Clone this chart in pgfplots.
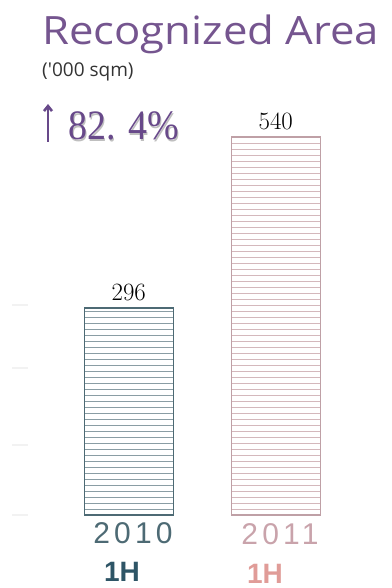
\documentclass[border=0pt]{standalone}
\usepackage{pgfplots}
\pgfplotsset{compat=1.18}
\usepackage{fontspec}
\usetikzlibrary{patterns.meta,arrows.meta}
\newfontfamily\titlefont{Open Sans}
\newfontfamily\serifnum{Liberation Serif}
\newfontfamily\yearfont[LetterSpace=14]{Liberation Sans}
\newfontfamily\boldsans{Liberation Sans}

\definecolor{titlepurple}{HTML}{75558F}
\definecolor{pctpurple}{HTML}{68498A}
\definecolor{tealdark}{HTML}{2E5566}
\definecolor{tealbar}{HTML}{4D6A74}
\definecolor{teallines}{HTML}{8A9DA4}
\definecolor{pinkbar}{HTML}{BFA0A6}
\definecolor{pinklines}{HTML}{D4B8BC}
\definecolor{pinkyear}{HTML}{C9A3AB}
\definecolor{pinkH}{HTML}{E09C98}

\begin{document}
\begin{tikzpicture}[x=1pt,y=1pt]
\useasboundingbox (0pt,0pt) rectangle (391pt,-588pt);

% headline block
\node[anchor=base west, inner sep=0, xscale=1.12, text=titlepurple, font=\titlefont\fontsize{39}{39}\selectfont] at (42pt,-45pt) {Recognized Area};
\node[anchor=base west, inner sep=0, text=black!80, font=\titlefont\fontsize{19}{19}\selectfont] at (42pt,-77pt) {('000 sqm)};
\draw[pctpurple, line width=2.6pt, -{Straight Barb[length=5pt,width=8pt]}] (48pt,-142pt) -- (48pt,-104pt);
\node[anchor=base west, inner sep=0, yscale=1.1, text=black!25, font=\serifnum\fontsize{38}{38}\selectfont] at (69.5pt,-141.5pt) {82. 4\%};
\node[anchor=base west, inner sep=0, yscale=1.1, text=pctpurple, font=\serifnum\fontsize{38}{38}\selectfont] at (68pt,-140pt) {82. 4\%};

\begin{axis}[
  at={(20pt,-515pt)}, anchor=south west,
  scale only axis, width=344pt, height=378pt,
  xmin=-0.74, xmax=1.6, ymin=0, ymax=540,
  axis line style={draw=none},
  xtick=\empty,
  ytick={0,100,210,300}, yticklabels={}, ytick pos=left,
  tick align=center, major tick length=16pt,
  ytick style={draw=black!5, line width=2pt},
  clip=false,
  nodes near coords,
  every node near coord/.append style={font=\fontsize{29}{29}\selectfont, text=black, inner sep=7pt},
]
\addplot[ybar, bar width=89pt, bar shift=0pt, draw=tealbar, line width=1.4pt,
  pattern={Lines[angle=0,distance=6pt,line width=1pt]}, pattern color=teallines]
  coordinates {(0,296)};
\addplot[ybar, bar width=89pt, bar shift=0pt, draw=pinkbar, line width=1.2pt,
  pattern={Lines[angle=0,distance=6pt,line width=1pt]}, pattern color=pinklines]
  coordinates {(1,540)};
\end{axis}

% period labels
\node[anchor=base, inner sep=0, text=tealbar, font=\yearfont\fontsize{30}{30}\selectfont] at (133pt,-543pt) {2010};
\node[anchor=base, inner sep=0, text=pinkyear, font=\yearfont\fontsize{30}{30}\selectfont] at (280pt,-544pt) {2011};
\node[anchor=base, inner sep=0, text depth=0pt, text=tealdark, font=\boldsans\bfseries\fontsize{28}{28}\selectfont] at (122pt,-581pt) {1H};
\node[anchor=base, inner sep=0, text depth=0pt, text=pinkH, font=\boldsans\bfseries\fontsize{28}{28}\selectfont] at (265pt,-583pt) {1H};
\end{tikzpicture}
\end{document}
